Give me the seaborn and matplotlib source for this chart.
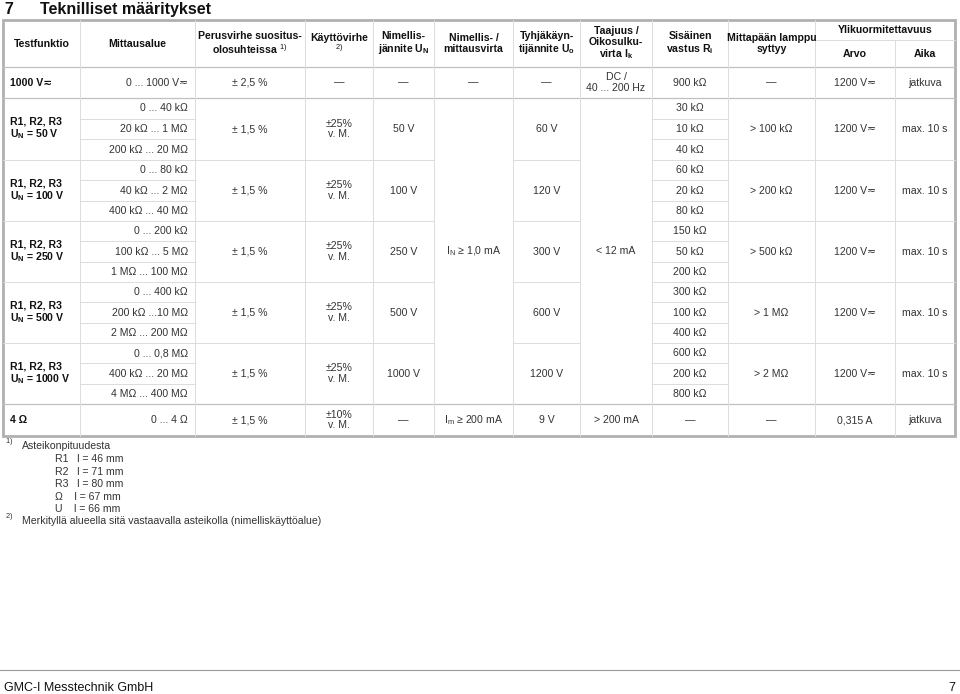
import matplotlib
matplotlib.use("Agg")
import matplotlib.pyplot as plt
import seaborn as sns

sns.set_theme(style="white")
plt.rcParams.update({
    "font.family": ["Liberation Sans", "DejaVu Sans"],
    "mathtext.fontset": "custom",
    "mathtext.rm": "Liberation Sans",
    "mathtext.it": "Liberation Sans",
    "mathtext.bf": "Liberation Sans:bold",
})

AC = "≂"
OHM = "Ω"

# column edges (px) and row edges (px)
col_x = [3, 80, 195, 305, 373, 434, 513, 580, 652, 728, 815, 895, 955]
row_y = [20, 67, 98, 160, 221, 282, 343, 404, 436]

headers = ["Testfunktio", "Mittausalue", "Perusvirhe suositus-\nolosuhteissa $^{1)}$",
           "Käyttövirhe\n$^{2)}$", "Nimellis-\njännite $\\mathbf{U_N}$", "Nimellis- /\nmittausvirta",
           "Tyhjäkäyn-\ntijännite $\\mathbf{U_o}$", "Taajuus /\nOikosulku-\nvirta $\\mathbf{I_k}$",
           "Sisäinen\nvastus $\\mathbf{R_i}$", "Mittapään lamppu\nsyttyy", None, None]

row_voltage = ["1000 V" + AC, "0 ... 1000 V" + AC, "± 2,5 %", "—", "—", "—", "—",
               "DC /\n40 ... 200 Hz", "900 k" + OHM, "—", "1200 V" + AC, "jatkuva"]

group_names = ["50 V", "100 V", "250 V", "500 V", "1000 V"]
group_ranges = [
    ["0 ... 40 kΩ", "20 kΩ ... 1 MΩ", "200 kΩ ... 20 MΩ"],
    ["0 ... 80 kΩ", "40 kΩ ... 2 MΩ", "400 kΩ ... 40 MΩ"],
    ["0 ... 200 kΩ", "100 kΩ ... 5 MΩ", "1 MΩ ... 100 MΩ"],
    ["0 ... 400 kΩ", "200 kΩ ...10 MΩ", "2 MΩ ... 200 MΩ"],
    ["0 ... 0,8 MΩ", "400 kΩ ... 20 MΩ", "4 MΩ ... 400 MΩ"],
]
group_open_v = ["60 V", "120 V", "300 V", "600 V", "1200 V"]
group_ri = [
    ["30 kΩ", "10 kΩ", "40 kΩ"],
    ["60 kΩ", "20 kΩ", "80 kΩ"],
    ["150 kΩ", "50 kΩ", "200 kΩ"],
    ["300 kΩ", "100 kΩ", "400 kΩ"],
    ["600 kΩ", "200 kΩ", "800 kΩ"],
]
group_lamp = ["> 100 kΩ", "> 200 kΩ", "> 500 kΩ", "> 1 MΩ", "> 2 MΩ"]
iso_error = "± 1,5 %"
iso_oper = "±25%\nv. M."
iso_current = "$\\mathrm{I_N}$ ≥ 1,0 mA"
iso_short = "< 12 mA"
iso_over = "1200 V" + AC
iso_time = "max. 10 s"

row_low = ["4 Ω", "0 ... 4 Ω", "± 1,5 %", "±10%\nv. M.", "—", "$\\mathrm{I_m}$ ≥ 200 mA",
           "9 V", "> 200 mA", "—", "—", "0,315 A", "jatkuva"]

footnotes = ["Asteikonpituudesta", "R1   l = 46 mm", "R2   l = 71 mm", "R3   l = 80 mm",
             "Ω    l = 67 mm", "U    l = 66 mm"]
footnote2 = "Merkityllä alueella sitä vastaavalla asteikolla (nimelliskäyttöalue)"

fig = plt.figure(figsize=(9.6, 6.94), dpi=100)
ax = fig.add_axes([0, 0, 1, 1])
ax.set_xlim(0, 960)
ax.set_ylim(694, 0)
ax.axis("off")

FS = 7.6
GRID = "#dcdcdc"
TXT = "#333333"


def hline(y, x0, x1, **kw):
    ax.plot([x0, x1], [y, y], color=kw.get("c", GRID), lw=kw.get("lw", 0.7))


def vline(x, y0, y1, **kw):
    ax.plot([x, x], [y0, y1], color=kw.get("c", GRID), lw=kw.get("lw", 0.7))


def cell(i, y0, y1, s, bold=False, ha="center"):
    if ha == "center":
        x = (col_x[i] + col_x[i + 1]) / 2
    elif ha == "left":
        x = col_x[i] + 7
    else:
        x = col_x[i + 1] - 7
    ax.text(x, (y0 + y1) / 2, s, ha=ha, va="center", fontsize=FS, color="#111111" if bold else TXT,
            fontweight="bold" if bold else "normal", linespacing=1.05, multialignment=ha)


ax.text(4, 9, "7", fontsize=11.5, fontweight="bold", va="center", color="#111111")
ax.text(40, 9, "Teknilliset määritykset", fontsize=11.5, fontweight="bold", va="center", color="#111111")

# header
for i, h in enumerate(headers):
    if h:
        cell(i, row_y[0], row_y[1], h, bold=True)
ax.text((col_x[10] + col_x[12]) / 2, 30, "Ylikuormitettavuus", ha="center", va="center",
        fontsize=FS, fontweight="bold", color="#111111")
cell(10, 40, row_y[1], "Arvo", bold=True)
cell(11, 40, row_y[1], "Aika", bold=True)
hline(40, col_x[10], col_x[12])

# 1000 V row
for i, s in enumerate(row_voltage):
    cell(i, row_y[1], row_y[2], s, bold=(i == 0), ha="left" if i == 0 else ("right" if i == 1 else "center"))

# insulation groups
for g in range(5):
    y0, y1 = row_y[2 + g], row_y[3 + g]
    sub = [y0 + (y1 - y0) * k / 3 for k in range(4)]
    cell(0, y0, y1, "R1, R2, R3\n$\\mathbf{U_N}$ = " + group_names[g], bold=True, ha="left")
    for k in range(3):
        cell(1, sub[k], sub[k + 1], group_ranges[g][k], ha="right")
        cell(8, sub[k], sub[k + 1], group_ri[g][k])
        if k:
            hline(sub[k], col_x[1], col_x[2])
            hline(sub[k], col_x[8], col_x[9])
    cell(2, y0, y1, iso_error)
    cell(3, y0, y1, iso_oper)
    cell(4, y0, y1, group_names[g])
    cell(6, y0, y1, group_open_v[g])
    cell(9, y0, y1, group_lamp[g])
    cell(10, y0, y1, iso_over)
    cell(11, y0, y1, iso_time)
    if g:
        for i in [0, 1, 2, 3, 4, 6, 8, 9, 10, 11]:
            hline(y0, col_x[i], col_x[i + 1])
cell(5, row_y[2], row_y[7], iso_current)
cell(7, row_y[2], row_y[7], iso_short)

# 4 ohm row
for i, s in enumerate(row_low):
    cell(i, row_y[7], row_y[8], s, bold=(i == 0), ha="left" if i == 0 else ("right" if i == 1 else "center"))

for y in [row_y[1], row_y[2], row_y[7]]:
    hline(y, col_x[0], col_x[-1], c="#c0c0c0", lw=0.9)
for x in col_x[1:-1]:
    y0 = 40 if x == col_x[11] else row_y[0]
    vline(x, y0, row_y[-1])
ax.add_patch(plt.Rectangle((col_x[0], row_y[0]), col_x[-1] - col_x[0], row_y[-1] - row_y[0],
                           fill=False, ec="#b0b0b0", lw=2.0))

# footnotes
ax.text(5, 443, "$^{1)}$", fontsize=FS, va="center", color=TXT)
ax.text(22, 446, footnotes[0], fontsize=FS, va="center", color=TXT)
for k, s in enumerate(footnotes[1:]):
    ax.text(55, 459 + 12.6 * k, s, fontsize=FS, va="center", color=TXT)
ax.text(5, 518, "$^{2)}$", fontsize=FS, va="center", color=TXT)
ax.text(22, 521, footnote2, fontsize=FS, va="center", color=TXT)

hline(670, 0, 960, c="#999999", lw=0.8)
ax.text(4, 688, "GMC-I Messtechnik GmbH", fontsize=9, va="center", color="#111111")
ax.text(955, 688, "7", fontsize=9, va="center", ha="right", color="#111111")

plt.savefig("out.png", dpi=100)
